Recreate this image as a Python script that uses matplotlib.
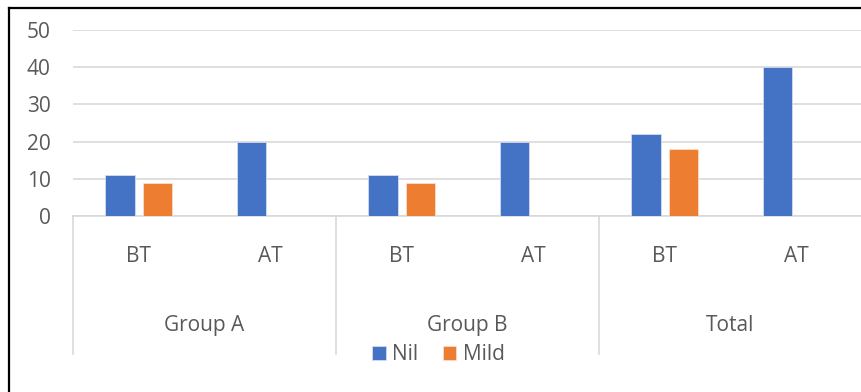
import matplotlib
matplotlib.use("Agg")
import matplotlib.pyplot as plt
import matplotlib.transforms as mtransforms
from matplotlib.lines import Line2D

plt.rcParams["font.family"] = ["Open Sans", "DejaVu Sans"]

# data
groups = ["Group A", "Group B", "Total"]
stages = ["BT", "AT"]
nil_values = [11, 20, 11, 20, 22, 40]
mild_values = [9, 0, 9, 0, 18, 0]

BLUE = "#4472C4"
ORANGE = "#ED7D31"
TEXT = "#595959"
GRID = "#D9D9D9"
FS = 15

W, H = 861, 392
fig = plt.figure(figsize=(W / 100, H / 100), dpi=100, facecolor="white")

# plot area in pixels: x 73..862, y 30 (top, =50) .. 216 (zero line)
ax = fig.add_axes([73 / W, 1 - 216 / H, 789 / W, 186 / H])
ax.set_ylim(0, 50)
ax.set_xlim(0, 6)

x = [i + 0.5 for i in range(len(nil_values))]
bw = 0.225
ax.bar([v - 0.143 for v in x], nil_values, width=bw, color=BLUE,
       edgecolor="#DCE4F2", linewidth=0.5, label="Nil", zorder=3)
ax.bar([v + 0.143 for v in x], mild_values, width=bw, color=ORANGE,
       edgecolor="#FBE2D5", linewidth=0.5, label="Mild", zorder=3)

ax.set_yticks(range(0, 51, 10))
ax.yaxis.grid(True, color=GRID, linewidth=1.2, zorder=0)
ax.tick_params(axis="y", length=0, pad=16, labelsize=FS, labelcolor=TEXT)
ax.set_xticks([])
for s in ["top", "right", "left"]:
    ax.spines[s].set_visible(False)
ax.spines["bottom"].set_color(GRID)
ax.spines["bottom"].set_linewidth(1.2)

# two-level category axis
trans = mtransforms.blended_transform_factory(ax.transData, ax.transAxes)
for i in range(len(groups)):
    ax.add_line(Line2D([2 * i, 2 * i], [0, -0.742], transform=trans,
                       color=GRID, linewidth=1.2, clip_on=False))
    ax.text(2 * i + 1, -0.59, groups[i], transform=trans, ha="center",
            va="center", fontsize=FS, color=TEXT)
    for j, st in enumerate(stages):
        ax.text(2 * i + j + 0.5, -0.22, st, transform=trans, ha="center",
                va="center", fontsize=FS, color=TEXT)

ax.legend(loc="center", bbox_to_anchor=(0.463, -0.745), ncol=2, frameon=False,
          fontsize=FS, labelcolor=TEXT, handlelength=0.65, handleheight=0.65,
          handletextpad=0.3, columnspacing=1.2, borderpad=0)

# outer frame (left and top edges)
yt = 1 - 7.5 / H
xl = 9 / W
fig.add_artist(Line2D([xl, xl], [0, yt], transform=fig.transFigure,
                      color="black", linewidth=1.6))
fig.add_artist(Line2D([xl, 1], [yt, yt], transform=fig.transFigure,
                      color="black", linewidth=1.6))

fig.savefig("out.png", dpi=100, facecolor="white")
